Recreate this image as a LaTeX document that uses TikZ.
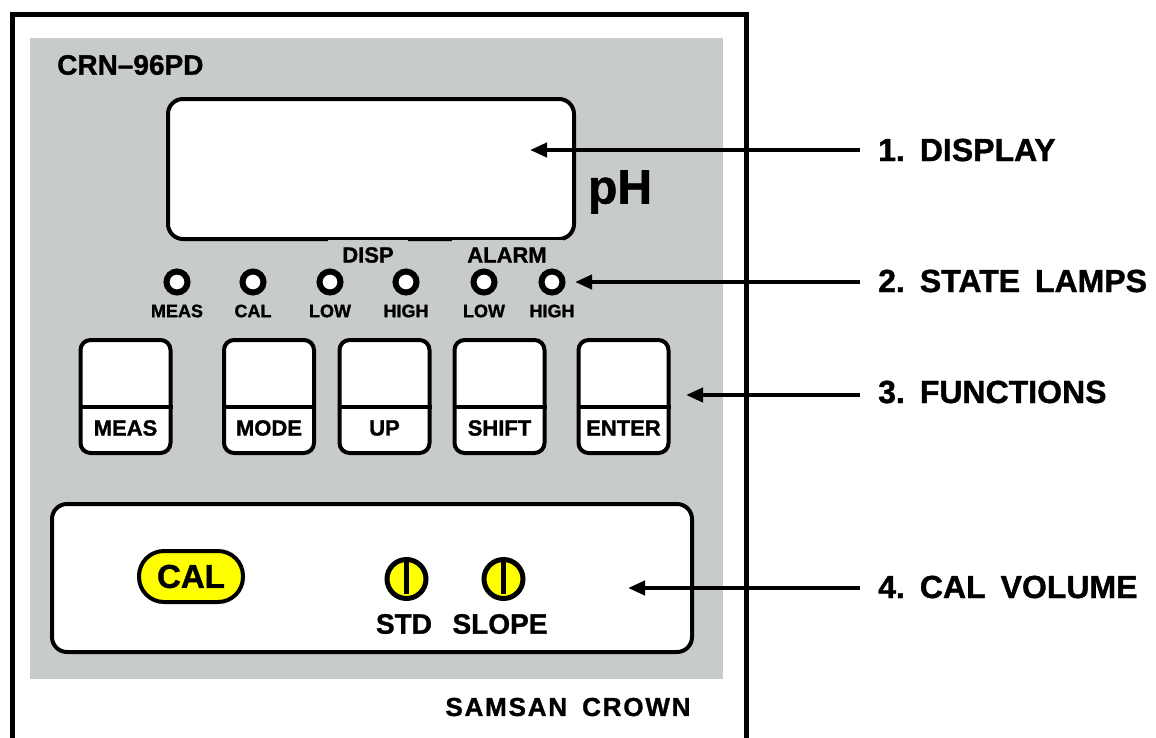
\documentclass[tikz,border=0pt]{standalone}
\usepackage{fontspec}
\setmainfont{Liberation Sans}[BoldFeatures={FakeBold=1.2}]
\usetikzlibrary{arrows.meta}
\definecolor{panel}{RGB}{200,204,200}
\definecolor{knobyellow}{RGB}{255,255,0}
\begin{document}
\begin{tikzpicture}[x=1pt,y=-1pt,
  fs/.style={font=\fontsize{#1}{#1}\selectfont\bfseries},
  lbl/.style={fs=32, anchor=west, inner sep=0pt},
  ptr/.style={line width=4pt, -{Triangle[length=17pt,width=14pt]}},
  btn/.style={draw, line width=4pt, fill=white, rounded corners=10pt,
              minimum width=90pt, minimum height=113pt, inner sep=0pt},
  lamp/.style={circle, draw, line width=6pt, fill=white, minimum size=21pt, inner sep=0pt},
  knob/.style={circle, draw, line width=5pt, fill=knobyellow, minimum size=39pt, inner sep=0pt},
  txt/.style={inner sep=0pt}]
\useasboundingbox (0,0) rectangle (1156,737);
\fill[white] (0,0) rectangle (1156,737);
% outer frame
\draw[line width=5pt] (12,740) -- (12,14) -- (746,14) -- (746,740);
% panel
\fill[panel] (30,38) rectangle (723,679);
\node[txt, fs=28, anchor=west] (model) at (57,65) {CRN--96PD};
% display
\node[draw, line width=4pt, fill=white, rounded corners=15pt,
      minimum width=406pt, minimum height=140pt] (disp) at (371,169) {};
\fill[panel] (328,239.6) rectangle (408,242);
\fill[panel] (452,239.6) rectangle (563,242);
\node[txt, fs=48] (ph) at (620,192) {pH};
\node[txt, fs=22] (displbl) at (368,255) {DISP};
\node[txt, fs=22] (alarmlbl) at (507,255) {ALARM};
% lamps
\foreach \n/\x/\t in {l1/177/MEAS, l2/253/CAL, l3/330/LOW, l4/406/HIGH, l5/484/LOW, l6/552/HIGH}{
  \node[lamp] (\n) at (\x,282) {};
  \node[txt, fs=18] (\n t) at (\x,311) {\t};
}
% buttons
\coordinate (divy) at (0,407);
\coordinate (laby) at (0,428);
\foreach \n/\x/\t in {b1/125.5/MEAS, b2/269/MODE, b3/384.5/UP, b4/499.5/SHIFT, b5/623.5/ENTER}{
  \node[btn] (\n) at (\x,396.5) {};
  \draw[line width=4pt] (\n.west |- divy) -- (\n.east |- divy);
  \node[txt, fs=22] (\n t) at (\n.center |- laby) {\t};
}
% cal volume box
\node[draw, line width=4pt, fill=white, rounded corners=15pt,
      minimum width=640pt, minimum height=148pt] (calbox) at (372,578) {};
\node[draw, line width=4pt, fill=knobyellow, rounded corners=25pt,
      minimum width=104pt, minimum height=51pt, fs=33, inner sep=0pt] (calbtn) at (191,576.5) {CAL};
\node[knob] (std) at (406.5,579) {};
\node[knob] (slope) at (503.5,579) {};
\draw[line width=5.5pt] (std.center) ++(0,-19) -- ++(0,34);
\draw[line width=5.5pt] (slope.center) ++(0,-19) -- ++(0,34);
\node[txt, fs=28] (stdt) at (404,624) {STD};
\node[txt, fs=28] (slopet) at (500,624) {SLOPE};
\node[txt, fs=26] (brand) at (568,707) {\addfontfeature{LetterSpace=7}SAMSAN\hspace{15pt}CROWN};
% labels and pointers
\node[lbl] (a1) at (878,150) {1.\hspace{15pt}DISPLAY};
\node[lbl] (a2) at (878,281) {2.\hspace{15pt}STATE\hspace{15pt}LAMPS};
\node[lbl] (a3) at (878,392) {3.\hspace{15pt}FUNCTIONS};
\node[lbl] (a4) at (878,587) {4.\hspace{15pt}CAL\hspace{15pt}VOLUME};
\coordinate (t1) at (530,150);
\coordinate (t2) at (575,282);
\coordinate (t3) at (686,395);
\coordinate (t4) at (628,588);
\foreach \i in {1,2,3,4}{
  \coordinate (s\i) at ([xshift=-18pt]a\i.west);
  \draw[ptr] (s\i |- t\i) -- (t\i);
}
\end{tikzpicture}
\end{document}
